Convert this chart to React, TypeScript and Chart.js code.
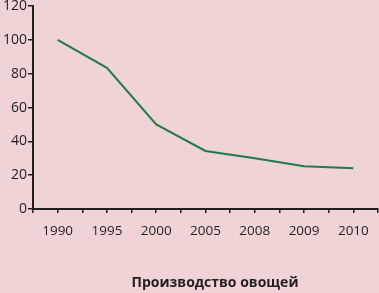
import React, { useEffect, useRef } from "react";
import { Chart, registerables } from "chart.js";

Chart.register(...registerables);

const categories = ["1990", "1995", "2000", "2005", "2008", "2009", "2010"];
const values = [100, 83.5, 50, 34.3, 30, 25.3, 24.1];
const yTicks = [0, 20, 40, 60, 80, 100, 120];
const titleText = "Производство овощей";

const BG = "#efd3d5";
const AXIS = "#231f20";
const LINE = "#217a4b";

const titleShift = {
  id: "titleShift",
  afterLayout(chart: any) {
    const t = chart.titleBlock;
    if (t) {
      t.left += 26;
      t.right += 26;
    }
  },
};

export default function App() {
  const ref = useRef<HTMLCanvasElement | null>(null);
  useEffect(() => {
    document.body.style.margin = "0";
    const ctx = ref.current!;
    const chart = new Chart(ctx, {
      type: "line",
      data: {
        datasets: [
          {
            data: values.map((v, i) => ({ x: i + 0.5, y: v })),
            borderColor: LINE,
            borderWidth: 2,
            pointRadius: 0,
            tension: 0,
            fill: false,
          },
        ],
      },
      options: {
        animation: false,
        responsive: false,
        maintainAspectRatio: false,
        layout: { padding: { left: 0, right: 1, top: 0, bottom: 0 } },
        plugins: {
          legend: { display: false },
          tooltip: { enabled: false },
          title: {
            display: true,
            text: titleText,
            position: "bottom",
            color: AXIS,
            font: { family: "'Open Sans'", size: 14, weight: "bold" },
            padding: { top: 25, bottom: 2 },
          },
        },
        scales: {
          x: {
            type: "linear",
            min: 0,
            max: categories.length,
            afterFit: (s: any) => {
              s.paddingLeft = 0;
              s.paddingRight = 0;
            },
            grid: {
              display: true,
              drawOnChartArea: false,
              drawTicks: true,
              tickLength: 4,
              color: AXIS,
              lineWidth: 1.5,
            },
            border: { display: true, color: AXIS, width: 2 },
            ticks: {
              stepSize: 0.5,
              autoSkip: false,
              maxRotation: 0,
              padding: 10,
              color: AXIS,
              font: { family: "'Open Sans'", size: 13.5 },
              callback: (v: any) => {
                const n = Number(v);
                if (Math.abs(n - Math.floor(n) - 0.5) < 1e-6) return categories[Math.floor(n)];
                return "";
              },
            },
          },
          y: {
            min: 0,
            max: 120,
            afterFit: (s: any) => {
              s.width = 33;
            },
            afterBuildTicks: (s: any) => {
              s.ticks = yTicks.map((v) => ({ value: v }));
            },
            grid: {
              display: true,
              drawOnChartArea: false,
              drawTicks: true,
              tickLength: 5,
              color: AXIS,
              lineWidth: 1.5,
            },
            border: { display: true, color: AXIS, width: 2 },
            ticks: {
              padding: 1,
              color: AXIS,
              font: { family: "'Open Sans'", size: 14, lineHeight: 0.72 },
            },
          },
        },
      },
      plugins: [titleShift],
    });
    return () => chart.destroy();
  }, []);
  return (
    <div style={{ position: "absolute", left: 0, top: 0, width: 379, height: 293, background: BG }}>
      <canvas ref={ref} width={379} height={293} style={{ display: "block" }} />
    </div>
  );
}
